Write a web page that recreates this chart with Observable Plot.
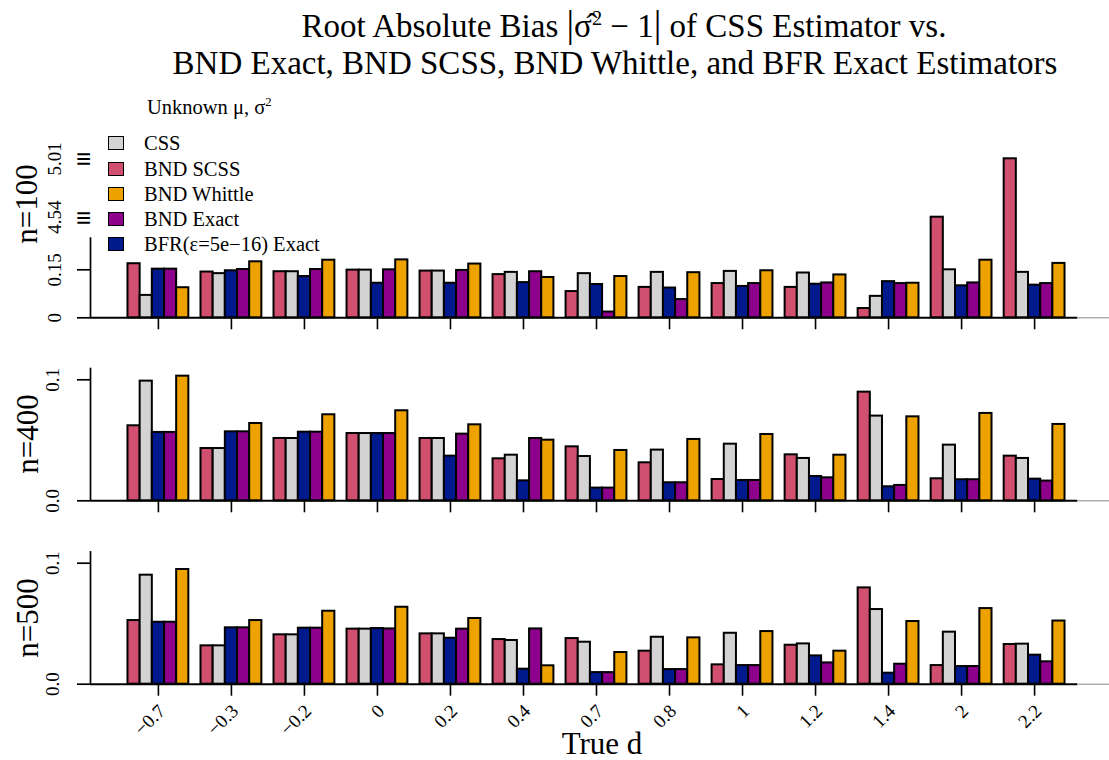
<!DOCTYPE html>
<html><head><meta charset="utf-8">
<script src="https://cdn.jsdelivr.net/npm/d3@7"></script>
<script src="https://cdn.jsdelivr.net/npm/@observablehq/plot@0.6"></script>
<style>
body{margin:0;background:#fff;}
#wrap{position:relative;width:1109px;height:760px;overflow:hidden;font-family:"Liberation Serif","Times New Roman",serif;color:#000;background:#fff;}
.abs{position:absolute;white-space:nowrap;}
.panel{position:absolute;left:0;}
.nlab{position:absolute;font-size:31px;line-height:34px;width:200px;height:34px;text-align:center;transform:rotate(-90deg);white-space:nowrap;}
.sq{position:absolute;width:16px;height:14px;box-sizing:border-box;border:1.8px solid #000;}
.lt{position:absolute;font-size:20.5px;line-height:26px;white-space:nowrap;}
sup{font-size:62%;line-height:0;vertical-align:0.6em;}
</style></head>
<body><div id="wrap"></div>
<script>
// ---------------- data ----------------
const dLabels = ["\u22120.7","\u22120.3","\u22120.2","0","0.2","0.4","0.7","0.8","1","1.2","1.4","2","2.2"];
const seriesNames = ["BND SCSS","CSS","BFR(\u03b5=5e\u221216) Exact","BND Exact","BND Whittle"]; // bar order
const seriesColors = ["#D2506F","#D3D3D3","#00198C","#8C008C","#EEA200"];
const legendOrder = ["CSS","BND SCSS","BND Whittle","BND Exact","BFR(\u03b5=5e\u221216) Exact"];

// n = 100
const n100SCSS    = [0.169,0.143,0.144,0.149,0.146,0.135,0.082,0.095,0.107,0.095,0.029,4.54,5.01];
const n100CSS     = [0.070,0.138,0.144,0.149,0.146,0.142,0.138,0.142,0.145,0.140,0.067,0.150,0.142];
const n100BFR     = [0.152,0.147,0.129,0.108,0.108,0.110,0.104,0.093,0.098,0.105,0.113,0.100,0.102];
const n100Exact   = [0.152,0.151,0.151,0.150,0.148,0.144,0.018,0.057,0.107,0.109,0.107,0.109,0.107];
const n100Whittle = [0.094,0.175,0.180,0.181,0.168,0.126,0.129,0.141,0.147,0.134,0.108,0.180,0.170];
// n = 400
const n400SCSS    = [0.0620,0.0432,0.0515,0.0556,0.0515,0.0347,0.0446,0.0314,0.0176,0.0380,0.0898,0.0182,0.0369];
const n400CSS     = [0.0989,0.0432,0.0515,0.0556,0.0515,0.0377,0.0366,0.0419,0.0468,0.0350,0.0700,0.0460,0.0350];
const n400BFR     = [0.0565,0.0570,0.0567,0.0556,0.0369,0.0165,0.0105,0.0149,0.0168,0.0201,0.0116,0.0174,0.0179];
const n400Exact   = [0.0565,0.0570,0.0567,0.0556,0.0551,0.0515,0.0105,0.0149,0.0168,0.0190,0.0127,0.0174,0.0163];
const n400Whittle = [0.1030,0.0639,0.0711,0.0744,0.0628,0.0501,0.0416,0.0507,0.0548,0.0377,0.0694,0.0722,0.0631];
// n = 500
const n500SCSS    = [0.0526,0.0317,0.0408,0.0455,0.0416,0.0369,0.0377,0.0273,0.0160,0.0322,0.0796,0.0154,0.0328];
const n500CSS     = [0.0901,0.0317,0.0408,0.0455,0.0416,0.0361,0.0347,0.0388,0.0421,0.0333,0.0617,0.0430,0.0331];
const n500BFR     = [0.0512,0.0466,0.0463,0.0460,0.0380,0.0124,0.0096,0.0121,0.0154,0.0234,0.0091,0.0146,0.0240];
const n500Exact   = [0.0512,0.0466,0.0463,0.0457,0.0455,0.0457,0.0096,0.0121,0.0154,0.0176,0.0165,0.0146,0.0185];
const n500Whittle = [0.0948,0.0526,0.0603,0.0636,0.0543,0.0152,0.0262,0.0383,0.0435,0.0273,0.0518,0.0625,0.0522];

const yTicks100 = [0, 0.15];
const yTickLabels100 = ["0", "0.15"];
const yBreaks100 = [4.54, 5.01];
const yBreakLabels100 = ["4.54", "5.01"];
const yTicks = [0, 0.1];
const yTickLabels = ["0.0", "0.1"];

// ---------------- layout ----------------
const W = 1109;
const X_DOMAIN = [-2.08, 81.08];
const centers = dLabels.map((_, g) => g * 6 + 3.5);
const PXU = 1210; // px per unit in lower panels

function rowsFor(arrs) {
  const rows = [];
  dLabels.forEach((d, g) => arrs.forEach((arr, b) => rows.push({d, series: seriesNames[b], x1: g*6+b+1, x2: g*6+b+2, v: arr[g]})));
  return rows;
}

function panel({arrs, top, H, base, yScale, axisTop, ticks, tickLabels, breaks, breakLabels, labelDx, xLabels}) {
  const rows = rowsFor(arrs);
  const marks = [
    Plot.ruleY([0], {x1: X_DOMAIN[0], x2: 79.05, stroke: "#000", strokeWidth: 2}),
    Plot.ruleY([0], {x1: 79.05, x2: 81.7, stroke: "#888", strokeWidth: 1}),
    Plot.rect(rows, {x1: "x1", x2: "x2", y1: 0, y2: "v", fill: "series", stroke: "#000", strokeWidth: 2}),
    Plot.ruleX([X_DOMAIN[0]], {y1: 0, y2: axisTop, stroke: "#000", strokeWidth: 1.7}),
    Plot.axisY(ticks, {anchor: "left", label: null, tickSize: 13, tickFormat: () => "", strokeWidth: 1.7}),
    Plot.text(ticks, {x: X_DOMAIN[0], y: d => d, text: (d, i) => tickLabels[i], dx: labelDx, rotate: -90, textAnchor: "middle", fontSize: 19}),
    Plot.axisX(centers, {anchor: "bottom", label: null, tickSize: 12, tickFormat: () => "", strokeWidth: 1.6})
  ];
  if (breaks) {
    marks.push(Plot.text(breaks, {x: X_DOMAIN[0], y: d => d, text: () => "\u2261", textAnchor: "end", dx: 1, dy: 1, fontSize: 27, fontWeight: "bold"}));
    marks.push(Plot.text(breaks, {x: X_DOMAIN[0], y: d => d, text: (d, i) => breakLabels[i], dx: labelDx, rotate: -90, textAnchor: "middle", fontSize: 19}));
  }
  if (xLabels) {
    marks.push(Plot.text(dLabels, {x: (d, i) => centers[i], text: d => d, frameAnchor: "bottom", dy: 28, dx: 8, rotate: -45, textAnchor: "end", fontSize: 19}));
  }
  const svg = Plot.plot({
    width: W, height: H,
    marginLeft: 90, marginRight: 7, marginTop: 0, marginBottom: H - base,
    style: {fontFamily: "Liberation Serif, Times New Roman, serif", fontSize: "19px", background: "transparent", overflow: "visible", color: "#000"},
    x: {domain: X_DOMAIN, axis: null},
    y: Object.assign({axis: null}, yScale),
    color: {domain: seriesNames, range: seriesColors},
    marks
  });
  svg.classList.add("panel");
  svg.style.top = top + "px";
  svg.style.position = "absolute";
  return svg;
}

const wrap = document.getElementById("wrap");

// Panel 1 (broken axis, piecewise linear scale)
{
  const top = 130, base = 317.3 - top;
  wrap.appendChild(panel({
    arrs: [n100SCSS, n100CSS, n100BFR, n100Exact, n100Whittle],
    top, H: 210, base,
    yScale: {type: "linear", domain: [0, 0.25, 4.4, 5.1], range: [base, base - 80, 234.1 - top, 147.1 - top]},
    axisTop: 0.25, ticks: yTicks100, tickLabels: yTickLabels100,
    breaks: yBreaks100, breakLabels: yBreakLabels100, labelDx: -36
  }));
}
// Panel 2
{
  const top = 340, base = 500.3 - top;
  wrap.appendChild(panel({
    arrs: [n400SCSS, n400CSS, n400BFR, n400Exact, n400Whittle],
    top, H: 190, base,
    yScale: {domain: [0, 0.12], range: [base, base - 0.12 * PXU]},
    axisTop: 0.1096, ticks: yTicks, tickLabels: yTickLabels, labelDx: -38
  }));
}
// Panel 3
{
  const top = 530, base = 683.7 - top;
  wrap.appendChild(panel({
    arrs: [n500SCSS, n500CSS, n500BFR, n500Exact, n500Whittle],
    top, H: 230, base,
    yScale: {domain: [0, 0.12], range: [base, base - 0.12 * PXU]},
    axisTop: 0.1096, ticks: yTicks, tickLabels: yTickLabels, labelDx: -38, xLabels: true
  }));
}

// ---------------- text: titles, labels, legend ----------------
function addDiv(html, css, cls) {
  const el = document.createElement("div");
  el.className = cls || "abs";
  el.innerHTML = html;
  Object.assign(el.style, css);
  wrap.appendChild(el);
  return el;
}
addDiv("Root Absolute Bias <span style='font-size:1.15em'>|</span>\u03c3\u0302<sup>2</sup> \u2212 1<span style='font-size:1.15em'>|</span> of CSS Estimator vs.",
  {left: "124px", width: "1000px", textAlign: "center", top: "5px", fontSize: "33px", lineHeight: "38px"});
addDiv("BND Exact, BND SCSS, BND Whittle, and BFR Exact Estimators",
  {left: "115px", width: "1000px", textAlign: "center", top: "44px", fontSize: "33px", lineHeight: "38px"});
addDiv("Unknown \u03bc, \u03c3<sup>2</sup>", {left: "147px", top: "94px", fontSize: "20.5px", lineHeight: "26px"});
addDiv("True d", {left: "502px", width: "200px", textAlign: "center", top: "727px", fontSize: "31px", lineHeight: "34px"});

const nLabels = ["n=100", "n=400", "n=500"];
const nCenters = [[27, 204], [28, 434], [28, 618]];
nLabels.forEach((t, i) => addDiv(t, {left: (nCenters[i][0] - 100) + "px", top: (nCenters[i][1] - 17) + "px"}, "nlab"));

legendOrder.forEach((name, i) => {
  const cy = 143.3 + i * 25.25;
  addDiv("", {left: "108px", top: (cy - 7) + "px", background: seriesColors[seriesNames.indexOf(name)]}, "sq");
  addDiv(name, {left: "144px", top: (cy - 13) + "px"}, "lt");
});
</script>
</body></html>
